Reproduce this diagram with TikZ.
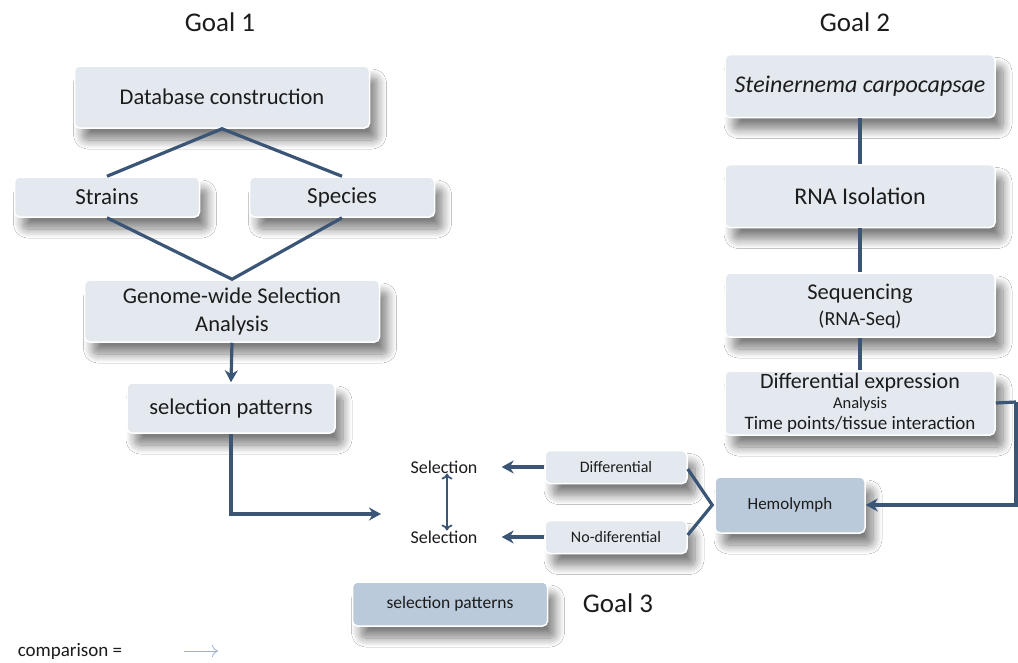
\documentclass[tikz,border=0pt]{standalone}
\usepackage{fontspec}
\setmainfont{Carlito}
\usetikzlibrary{shadows.blur,arrows.meta}
\definecolor{boxfill}{HTML}{E4E9F0}
\definecolor{darkfill}{HTML}{BACADA}
\definecolor{linec}{HTML}{3A5576}
\definecolor{lightarr}{HTML}{9FB4CC}
\definecolor{txt}{HTML}{1C1C1C}
\newcommand{\fsz}[1]{\fontsize{#1}{1.2\dimexpr#1pt\relax}\selectfont}
\tikzset{
  box/.style={rectangle, rounded corners=5pt, fill=boxfill, draw=white, line width=1.5pt,
    text=txt, align=center, inner sep=2pt,
    blur shadow={shadow xshift=8pt, shadow yshift=-12pt, shadow blur steps=12, shadow blur radius=9pt, shadow opacity=50}},
  dbox/.style={box, fill=darkfill},
  conn/.style={draw=linec, line width=3.2pt},
  arr/.style={conn, -{Stealth[length=12pt,width=13pt]}},
  lbl/.style={text=txt, inner sep=2pt}
}
\begin{document}
\begin{tikzpicture}[x=1pt,y=-1pt]
\useasboundingbox[fill=white] (0,0) rectangle (1018,662);

% Goal labels
\node[lbl, font=\fsz{27}] (g1) at (220,22) {Goal 1};
\node[lbl, font=\fsz{27}] (g2) at (855,22) {Goal 2};
\node[lbl, font=\fsz{27}] (g3) at (618,603) {Goal 3};

% Goal 1 column
\node[box, minimum width=295pt, minimum height=62pt, font=\fsz{22.5}] (db) at (222,97) {Database construction};
\node[box, minimum width=185pt, minimum height=40pt, font=\fsz{23}] (strains) at (107,197) {Strains};
\node[box, minimum width=185pt, minimum height=40pt, font=\fsz{23}] (species) at (342,197) {Species};
\node[box, minimum width=295pt, minimum height=62pt, font=\fsz{22.5}] (gen) at (232,311) {Genome-wide Selection\\[1pt]Analysis};
\node[box, minimum width=208pt, minimum height=50pt, font=\fsz{22.5}] (sp1) at (231,408) {selection patterns};

% Goal 2 column
\node[box, minimum width=270pt, minimum height=63pt, font=\fsz{24}\itshape] (stein) at (860,86) {Steinernema carpocapsae};
\node[box, minimum width=270pt, minimum height=63pt, font=\fsz{24}] (rna) at (860,196) {RNA Isolation};
\node[box, minimum width=270pt, minimum height=64pt, text depth=0pt] (seq) at (860,305) {\fsz{22.5}Sequencing\\[6pt]\fsz{20}(RNA-Seq)};
\node[box, minimum width=270pt, minimum height=64pt] (dex) at (860,403) {\fsz{22}Differential expression\\[4pt]\fsz{16.5}Analysis\\[4pt]\fsz{19}Time points/tissue interaction};

% Goal 3 area
\node[lbl, font=\fsz{18}] (sel1) at (444,467) {Selection};
\node[lbl, font=\fsz{18}] (sel2) at (444,537) {Selection};
\node[box, minimum width=142pt, minimum height=33pt, font=\fsz{16}] (diff) at (616,467) {Differential};
\node[box, minimum width=142pt, minimum height=33pt, font=\fsz{16}] (nodiff) at (616,537) {No-diferential};
\node[dbox, minimum width=150pt, minimum height=56pt, font=\fsz{17}] (hemo) at (790,505) {Hemolymph};
\node[dbox, minimum width=195pt, minimum height=44pt, font=\fsz{17.5}] (sp3) at (450,604) {selection patterns};

% legend
\node[lbl, font=\fsz{19}] (cmp) at (70,651) {comparison =};
\coordinate (la) at (184,651);
\coordinate (lb) at (218,651);
\draw[draw=lightarr, line width=0.8pt, -{To[length=6pt,width=12pt]}] (la) -- (lb);

% connectors goal 1
\draw[conn] (strains.north) -- (db.south) -- (species.north);
\draw[conn] (strains.south) -- (gen.north) -- (species.south);
\draw[arr] (gen.south) -- (sp1.north);
\coordinate (tgt) at (381,514);
\draw[arr] (sp1.south) |- (tgt);

% connectors goal 2
\draw[conn] (stein.south) -- (rna.north);
\draw[conn] (rna.south) -- (seq.north);
\draw[conn] (seq.south) -- (dex.north);
\coordinate (re) at (1016,402);
\draw[conn] (dex.east) -- (re);
\draw[arr] (re) |- (hemo.east);

% connectors goal 3
\draw[arr] (diff.west) -- ([xshift=22pt]sel1.east);
\draw[arr] (nodiff.west) -- ([xshift=22pt]sel2.east);
\draw[conn] ([yshift=-2pt]diff.east) -- ([xshift=-2pt]hemo.west) -- ([yshift=2pt]nodiff.east);
\draw[draw=linec, line width=1.8pt, {To[length=6pt,width=11pt]}-{To[length=6pt,width=11pt]}] ([xshift=3pt,yshift=2pt]sel1.south) -- ([xshift=3pt,yshift=-2pt]sel2.north);
\end{tikzpicture}
\end{document}
